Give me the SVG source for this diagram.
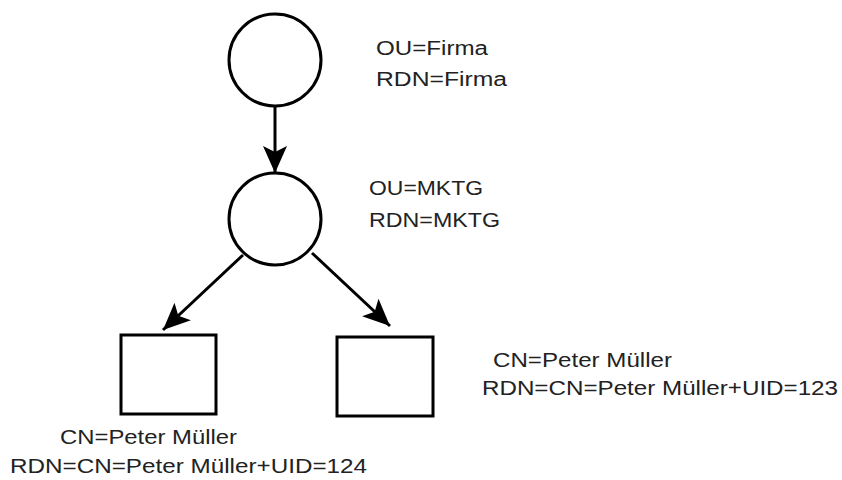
<svg xmlns="http://www.w3.org/2000/svg" width="842" height="480" viewBox="0 0 842 480">
  <style>
    .node { fill: #ffffff; stroke: #000000; stroke-width: 3; }
    .edge { fill: none; stroke: #000000; stroke-width: 3; }
    .lbl { font-family: "Liberation Sans", Arial, sans-serif; font-size: 20px; fill: #222222; }
  </style>
  <defs>
    <marker id="arrow" markerUnits="userSpaceOnUse" markerWidth="30" markerHeight="30" viewBox="-28 -14 30 28" refX="0" refY="0" orient="auto">
      <path d="M0,0 L-27,-12 L-21,0 L-27,12 Z" fill="#000000"/>
    </marker>
  </defs>
  <rect width="842" height="480" fill="#ffffff"/>
  <g id="connectors">
    <line class="edge" x1="275" y1="106" x2="275" y2="173" marker-end="url(#arrow)"/>
    <line class="edge" x1="243" y1="255" x2="163" y2="330" marker-end="url(#arrow)"/>
    <line class="edge" x1="312" y1="253" x2="390" y2="326" marker-end="url(#arrow)"/>
  </g>
  <g id="firma">
    <circle class="node" cx="275" cy="60" r="46"/>
    <text class="lbl" x="376" y="55" textLength="112" lengthAdjust="spacingAndGlyphs">OU=Firma</text>
    <text class="lbl" x="376" y="86" textLength="131" lengthAdjust="spacingAndGlyphs">RDN=Firma</text>
  </g>
  <g id="mktg">
    <circle class="node" cx="275" cy="219" r="46"/>
    <text class="lbl" x="369" y="195" textLength="114" lengthAdjust="spacingAndGlyphs">OU=MKTG</text>
    <text class="lbl" x="369" y="227" textLength="131" lengthAdjust="spacingAndGlyphs">RDN=MKTG</text>
  </g>
  <g id="peter124">
    <rect class="node" x="121" y="335" width="95" height="79"/>
    <text class="lbl" x="60" y="444" textLength="177" lengthAdjust="spacingAndGlyphs">CN=Peter Müller</text>
    <text class="lbl" x="10" y="473" textLength="357" lengthAdjust="spacingAndGlyphs">RDN=CN=Peter Müller+UID=124</text>
  </g>
  <g id="peter123">
    <rect class="node" x="337" y="337" width="96" height="79"/>
    <text class="lbl" x="493" y="367" textLength="179" lengthAdjust="spacingAndGlyphs">CN=Peter Müller</text>
    <text class="lbl" x="482" y="395" textLength="356" lengthAdjust="spacingAndGlyphs">RDN=CN=Peter Müller+UID=123</text>
  </g>
</svg>
